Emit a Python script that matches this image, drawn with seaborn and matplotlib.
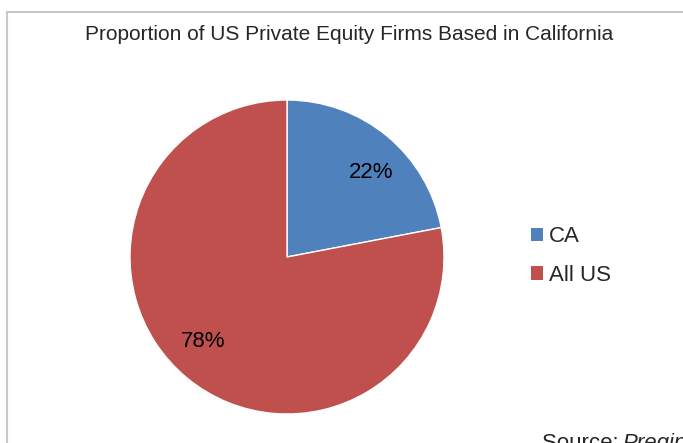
import matplotlib
matplotlib.use('Agg')
import matplotlib.pyplot as plt
import seaborn as sns
from matplotlib.patches import Rectangle, Patch

# Данні
categories = ['CA', 'All US']
shares = [22, 78]
colors = ['#4F81BD', '#C0504D']
title = 'Proportion of US Private Equity Firms Based in California'

sns.set_theme(style='white')
plt.rcParams['font.family'] = ['Liberation Sans', 'DejaVu Sans']

fig = plt.figure(figsize=(6.83, 4.43), dpi=100)

# Рамка діаграми
fig.patches.append(Rectangle((7 / 683, -0.1), 2.0, (443 - 12) / 443 + 0.1,
                             transform=fig.transFigure, fill=False,
                             edgecolor='#C8C8C8', linewidth=1.5))

ax = fig.add_axes([130 / 683, 29 / 443, 314 / 683, 314 / 443])
wedges, texts, autotexts = ax.pie(shares, colors=colors, startangle=85, counterclock=False,
                                  autopct='%1.0f%%', pctdistance=0.76,
                                  textprops={'fontsize': 16, 'color': 'black'})
# повертаємо сектори на 90°, підписи залишаються трохи зсунутими як в оригіналі
for w in wedges:
    w.set_theta1(w.theta1 + 5)
    w.set_theta2(w.theta2 + 5)
ax.set_xlim(-1, 1)
ax.set_ylim(-1, 1)
ax.set_aspect('equal')

fig.text(349 / 683, 1 - 35 / 443, title, ha='center', va='center', fontsize=15)

handles = [Patch(facecolor=c, edgecolor='none') for c in colors]
fig.legend(handles, categories, loc='center left', bbox_to_anchor=(511 / 683, 1 - 256 / 443),
           frameon=False, fontsize=16, handlelength=0.55, handleheight=0.55,
           handletextpad=0.25, labelspacing=0.8)

fig.text(542 / 683, 1 - 449 / 443, 'Source: ', fontsize=16, va='baseline')
fig.text(622 / 683, 1 - 449 / 443, 'Pregin', fontsize=16, va='baseline', style='italic')

fig.savefig('out.png', dpi=100)
